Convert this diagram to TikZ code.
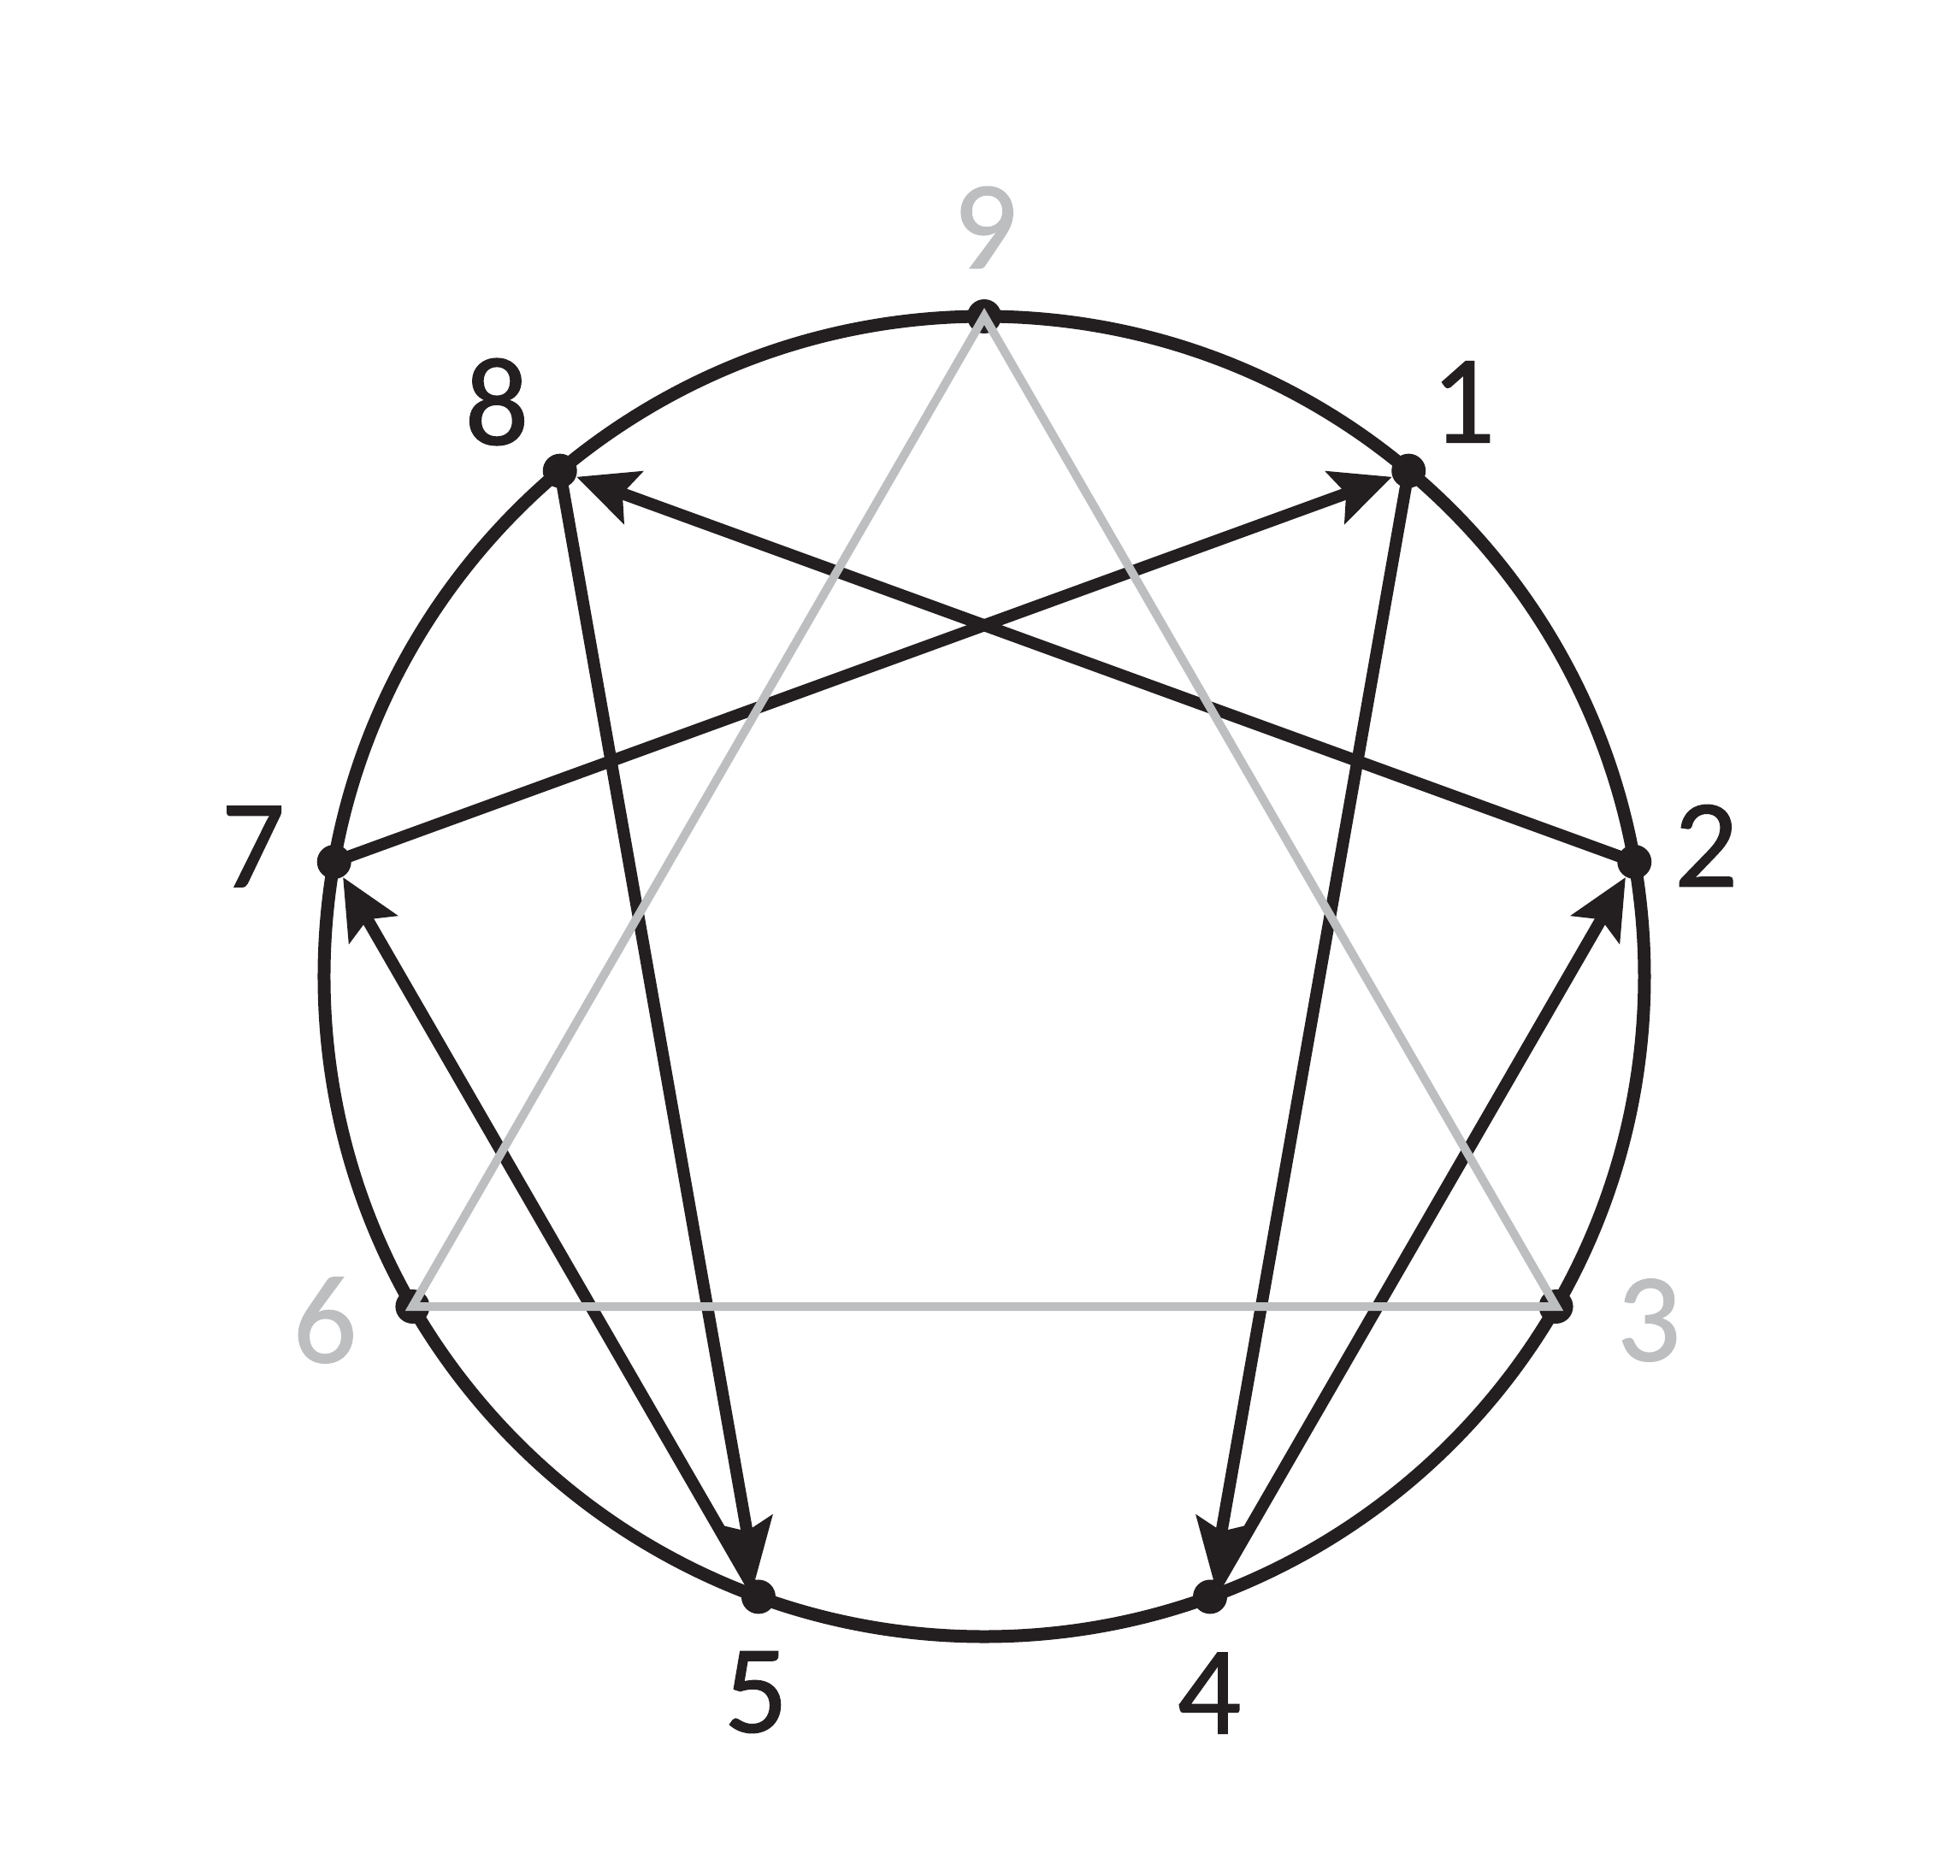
\documentclass[tikz,border=0pt]{standalone}
\usepackage{fontspec}
\newfontfamily\numfont{Carlito}[FakeBold=0.8]
\usetikzlibrary{arrows.meta}
\definecolor{ink}{HTML}{231F20}
\definecolor{ash}{HTML}{BCBEC0}
\tikzset{
  dot/.style={circle, fill=ink, inner sep=0pt, minimum size=0.4cm},
  num/.style={font=\numfont\fontsize{42}{46}\selectfont, text=ink, inner sep=0pt},
  hexad/.style={draw=ink, line width=0.14cm,
    -{Stealth[length=0.7cm, width=0.64cm, inset=0.13cm]}},
  triad/.style={draw=ash, line width=0.1cm},
}
\begin{document}
\begin{tikzpicture}
\useasboundingbox (-11.51,-10.51) rectangle (11.41,11.42);

\draw[ink, line width=0.15cm] (0,0) circle (7.72);

\node[dot] (p9) at (90:7.72) {};
\node[dot] (p1) at (50:7.72) {};
\node[dot] (p2) at (10:7.72) {};
\node[dot] (p3) at (-30:7.72) {};
\node[dot] (p4) at (-70:7.72) {};
\node[dot] (p5) at (-110:7.72) {};
\node[dot] (p6) at (-150:7.72) {};
\node[dot] (p7) at (170:7.72) {};
\node[dot] (p8) at (130:7.72) {};

\draw[hexad] (p1.center) -- (p4);
\draw[hexad] (p4.center) -- (p2);
\draw[hexad] (p2.center) -- (p8);
\draw[hexad] (p8.center) -- (p5);
\draw[hexad] (p5.center) -- (p7);
\draw[hexad] (p7.center) -- (p1);

\draw[triad] (p9.center) -- (p3.center) -- (p6.center) -- cycle;

\node[num, text=ash] (l9) at (0.01,8.76) {9};
\node[num] (l1) at (5.60,6.72) {1};
\node[num] (l2) at (8.44,1.53) {2};
\node[num, text=ash] (l3) at (7.77,-4.02) {3};
\node[num] (l4) at (2.63,-8.38) {4};
\node[num] (l5) at (-2.67,-8.37) {5};
\node[num, text=ash] (l6) at (-7.71,-4.02) {6};
\node[num] (l7) at (-8.55,1.52) {7};
\node[num] (l8) at (-5.70,6.72) {8};
\end{tikzpicture}
\end{document}
